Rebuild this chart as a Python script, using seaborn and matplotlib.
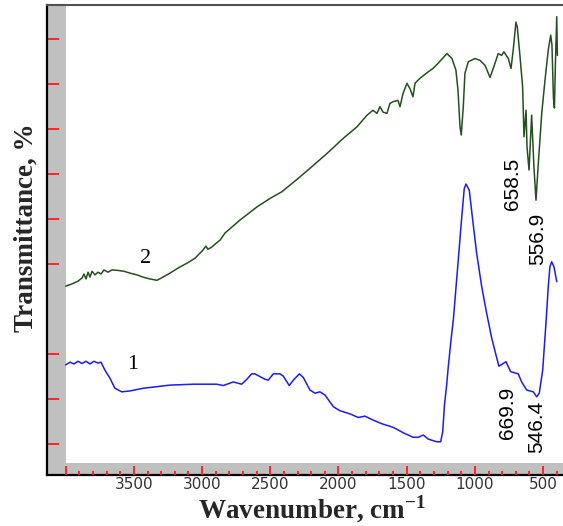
import numpy as np
import pandas as pd
import matplotlib
matplotlib.use("Agg")
import matplotlib.pyplot as plt
from matplotlib.ticker import FixedLocator
from matplotlib.transforms import blended_transform_factory
import seaborn as sns

# ======================================
# DATA
# ======================================

# curve 2 (green)
wn_2 = [4000, 3954, 3910, 3880, 3866, 3851, 3836, 3822, 3807, 3785, 3763, 3741, 3719, 3690,
        3661, 3617, 3573, 3529, 3477, 3433, 3382, 3331, 3287, 3235, 3177, 3111, 3052, 2994,
        2972, 2957, 2928, 2906, 2869, 2832, 2722, 2598, 2502, 2414, 2282, 2209, 2084, 1967,
        1865, 1791, 1747, 1718, 1696, 1674, 1645, 1623, 1601, 1564, 1549, 1527, 1498, 1476,
        1454, 1439, 1403, 1344, 1307, 1271, 1205, 1168, 1139, 1124, 1109, 1100, 1085, 1073,
        1048, 999, 963, 926, 889, 853, 829, 804, 787, 755, 735, 719, 699, 689, 669, 650, 640,
        625, 618, 603, 584, 567, 552, 535, 510, 486, 462, 444, 435, 424, 417, 409, 400, 395]
tr_2 = [45.1, 45.6, 46.2, 46.9, 47.8, 46.7, 48.2, 47.1, 48.4, 47.6, 48.2, 47.8, 48.7, 48.2,
        48.7, 48.6, 48.4, 48.0, 47.6, 47.1, 46.7, 46.4, 47.1, 48.0, 49.1, 50.2, 51.3, 53.1,
        54.0, 53.3, 53.8, 54.4, 55.3, 56.9, 59.8, 62.7, 64.6, 66.1, 69.4, 71.3, 74.6, 77.9,
        80.5, 83.1, 84.2, 83.5, 85.0, 83.8, 83.5, 85.7, 86.1, 86.4, 85.0, 87.9, 90.2, 89.0,
        87.2, 90.2, 91.3, 92.7, 93.5, 94.6, 96.8, 95.7, 93.1, 88.7, 80.5, 78.7, 85.0, 92.4,
        95.0, 95.7, 95.3, 94.2, 91.5, 94.6, 96.8, 96.4, 97.2, 95.7, 93.5, 97.6, 103.8, 102.7,
        96.1, 89.4, 78.3, 84.2, 76.1, 70.9, 83.1, 71.6, 64.2, 72.4, 83.5, 90.9, 97.6, 100.9,
        98.7, 86.9, 84.7, 95.3, 105.0, 96.4]

# curve 1 (blue)
wn_1 = [4000, 3968, 3939, 3910, 3880, 3851, 3822, 3793, 3763, 3741, 3712, 3675, 3639, 3589,
        3529, 3431, 3345, 3235, 3065, 2893, 2845, 2771, 2710, 2678, 2636, 2612, 2576, 2539,
        2515, 2478, 2429, 2405, 2361, 2331, 2287, 2258, 2209, 2172, 2136, 2099, 2038, 1989,
        1916, 1855, 1806, 1745, 1672, 1598, 1525, 1452, 1415, 1378, 1342, 1280, 1251, 1236,
        1223, 1207, 1195, 1175, 1158, 1126, 1097, 1078, 1065, 1041, 1016, 987, 950, 914, 877,
        853, 824, 772, 738, 682, 657, 620, 572, 547, 528, 503, 479, 462, 450, 437, 420, 400]
tr_1 = [27.6, 28.2, 27.8, 28.4, 27.9, 28.4, 27.8, 28.4, 28.0, 28.2, 26.4, 24.6, 22.4, 21.6,
        21.8, 22.4, 22.7, 23.1, 23.3, 23.3, 23.0, 23.8, 23.3, 24.2, 25.6, 25.6, 25.0, 24.4,
        24.2, 25.6, 25.6, 25.1, 23.0, 24.2, 25.6, 24.8, 22.0, 21.3, 21.6, 20.9, 18.3, 17.4,
        16.7, 15.9, 16.2, 15.3, 14.4, 13.7, 12.5, 11.5, 11.5, 12.0, 11.1, 10.5, 10.5, 12.7,
        18.7, 23.1, 27.2, 33.1, 37.6, 49.4, 60.2, 66.8, 67.8, 66.4, 59.8, 52.4, 45.0, 39.1,
        33.6, 30.7, 27.3, 28.3, 26.1, 25.6, 23.8, 22.0, 21.6, 20.5, 21.3, 26.4, 36.8, 45.0,
        49.4, 50.5, 49.4, 46.1]

# peak labels: (text, wavenumber, transmittance)
peak_text = ["658.5", "556.9", "669.9", "546.4"]
peak_wn = [721, 537, 761, 545]
peak_tr = [67.8, 55.7, 17.0, 13.8]

curve_names = ["1", "2"]
curve_name_wn = [3507, 3415]
curve_name_tr = [27.7, 51.3]

x_major = [4000, 3500, 3000, 2500, 2000, 1500, 1000, 500]
x_labels = ["", "3500", "3000", "2500", "2000", "1500", "1000", "500"]
x_minor = [w for w in range(400, 4001, 100) if w % 500 != 0]
y_ticks = [10, 20, 30, 50, 60, 70, 80, 90, 100]

df1 = pd.DataFrame({"wn": wn_1, "tr": tr_1})
df2 = pd.DataFrame({"wn": wn_2, "tr": tr_2})

# ======================================
# STYLE
# ======================================

sns.set_style("white")
plt.rcParams["font.family"] = ["DejaVu Sans"]
plt.rcParams["mathtext.fontset"] = "custom"
plt.rcParams["mathtext.rm"] = "Liberation Serif"
plt.rcParams["mathtext.bf"] = "Liberation Serif:bold"

tick_red = "#ff1a1a"

# ======================================
# PLOT
# ======================================

fig = plt.figure(figsize=(5.63, 5.26), dpi=100)
ax = fig.add_axes([47 / 563, 51.3 / 526, 516 / 563, 469.7 / 526])
ax.set_facecolor("white")

# grey bands along left and bottom edges
ax.axvspan(4137, 4000, color="#c0c0c0", lw=0, zorder=0)
ax.axhspan(3.18, 5.84, color="#c0c0c0", lw=0, zorder=0)

sns.lineplot(data=df2, x="wn", y="tr", sort=False, estimator=None,
             color="#24501f", lw=1.1, ax=ax)
sns.lineplot(data=df1, x="wn", y="tr", sort=False, estimator=None,
             color="#1a1aff", lw=1.1, ax=ax)

ax.set_xlim(4137, 354)
ax.set_ylim(3.18, 107.6)

for t, x, y in zip(curve_names, curve_name_wn, curve_name_tr):
    ax.text(x, y, t, ha="center", va="center", fontsize=16,
            family="Liberation Serif", color="black")

for t, x, y in zip(peak_text, peak_wn, peak_tr):
    ax.text(x, y, t, rotation=90, ha="center", va="center", fontsize=15,
            family="Liberation Sans", color="black")

ax.set_xlabel("")
ax.set_ylabel("")

# x tick labels from the axis, red tick marks standing on the bottom spine
ax.xaxis.set_major_locator(FixedLocator(x_major))
ax.set_xticklabels(x_labels)
ax.tick_params(axis="x", which="both", length=0, labelsize=11,
               labelcolor="#333333", pad=2)
xtrans = blended_transform_factory(ax.transData, ax.transAxes)
ax.vlines(x_major, 0, 0.0195, transform=xtrans, color=tick_red, lw=1.3, zorder=6)
ax.vlines(x_minor, 0, 0.0085, transform=xtrans, color=tick_red, lw=1.3, zorder=6)

ax.set_yticks(y_ticks)
ax.set_yticklabels([])
ax.tick_params(axis="y", which="major", direction="in", length=8.6, width=1.3,
               color=tick_red, left=True, right=False)

for side in ["left", "bottom"]:
    ax.spines[side].set_color("black")
    ax.spines[side].set_linewidth(1.6)
ax.spines["top"].set_color("#505050")
ax.spines["top"].set_linewidth(1.5)
ax.spines["right"].set_visible(False)

fig.text(312 / 563, 8 / 526, r"Wavenumber, cm$^{\mathbf{-1}}$", ha="center",
         va="baseline", fontsize=19.5, fontweight="bold", family="Liberation Serif")
fig.text(26 / 563, 1 - 228 / 526, "Transmittance, %", rotation=90, ha="center",
         va="center", fontsize=19.5, fontweight="bold", family="Liberation Serif")

fig.savefig("out.png", dpi=100)
plt.close(fig)
